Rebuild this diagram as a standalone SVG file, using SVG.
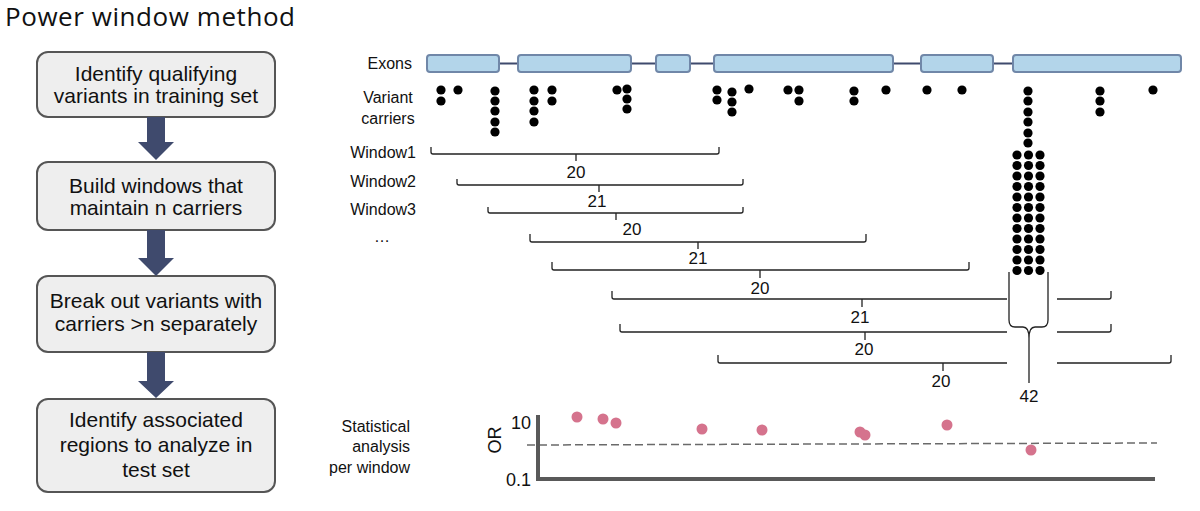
<svg xmlns="http://www.w3.org/2000/svg" width="1200" height="511" viewBox="0 0 1200 511">
<style>
.box{fill:#eeeeee;stroke:#555555;stroke-width:2}
.bt{font-family:"Liberation Sans",Arial,sans-serif;font-size:21px;fill:#111;text-anchor:middle}
.lbl{font-family:"Liberation Sans",Arial,sans-serif;font-size:16px;fill:#111}
.tick{font-family:"Liberation Sans",Arial,sans-serif;font-size:18px;fill:#111}
.num{font-family:"Liberation Sans",Arial,sans-serif;font-size:17px;fill:#111;text-anchor:middle}
.arrow{fill:#3f4a6d}
.exon{fill:#b3d5ea;stroke:#7087a8;stroke-width:2}
.dot{fill:#000}
.br{fill:none;stroke:#222;stroke-width:1.3}
.pd{fill:#d5738d}
</style>
<text x="5" y="26" font-family="'Open Sans','Noto Sans',sans-serif" font-size="26" fill="#111" textLength="290">Power window method</text>

<g id="step1"><rect class="box" x="37" y="52" width="238" height="65" rx="11"/><text class="bt" x="156" y="81">Identify qualifying</text><text class="bt" x="156" y="103">variants in training set</text></g>
<g id="step2"><rect class="box" x="37" y="162" width="238" height="68" rx="11"/><text class="bt" x="156" y="193">Build windows that</text><text class="bt" x="156" y="215">maintain n carriers</text></g>
<g id="step3"><rect class="box" x="37" y="276" width="238" height="76" rx="11"/><text class="bt" x="156" y="308">Break out variants with</text><text class="bt" x="156" y="331">carriers &gt;n separately</text></g>
<g id="step4"><rect class="box" x="37" y="399" width="238" height="93" rx="11"/><text class="bt" x="156" y="427">Identify associated</text><text class="bt" x="156" y="452">regions to analyze in</text><text class="bt" x="156" y="477">test set</text></g>

<g id="connectors">
<path class="arrow" d="M147 117H165V142H174L156 160L138 142H147Z"/>
<path class="arrow" d="M147 230H165V258H174L156 276L138 258H147Z"/>
<path class="arrow" d="M147 352H165V381H174L156 398L138 381H147Z"/>
</g>

<g id="labels" class="lbl">
<text x="412" y="69" text-anchor="end">Exons</text>
<text x="388" y="103" text-anchor="middle">Variant</text>
<text x="388" y="124" text-anchor="middle">carriers</text>
<text x="416" y="158" text-anchor="end">Window1</text>
<text x="416" y="187" text-anchor="end">Window2</text>
<text x="416" y="215" text-anchor="end">Window3</text>
<text x="382" y="242" text-anchor="middle">…</text>
<text x="410" y="432" text-anchor="end">Statistical</text>
<text x="410" y="452" text-anchor="end">analysis</text>
<text x="410" y="473" text-anchor="end">per window</text>
</g>

<g id="gene">
<line x1="499" y1="63.5" x2="1013" y2="63.5" stroke="#3f4a6d" stroke-width="2"/>
<rect class="exon" x="427" y="55" width="72" height="17" rx="3"/>
<rect class="exon" x="518" y="55" width="113" height="17" rx="3"/>
<rect class="exon" x="656" y="55" width="34" height="17" rx="3"/>
<rect class="exon" x="714" y="55" width="179" height="17" rx="3"/>
<rect class="exon" x="921" y="55" width="72" height="17" rx="3"/>
<rect class="exon" x="1013" y="55" width="168" height="17" rx="3"/>
</g>

<g id="carriers" class="dot">
<circle cx="441" cy="90" r="4.6"/><circle cx="441" cy="101" r="4.6"/>
<circle cx="458" cy="90" r="4.6"/>
<circle cx="495" cy="91" r="4.6"/><circle cx="495" cy="101" r="4.6"/><circle cx="495" cy="111" r="4.6"/><circle cx="495" cy="122" r="4.6"/><circle cx="495" cy="132" r="4.6"/>
<circle cx="534" cy="90" r="4.6"/><circle cx="534" cy="101" r="4.6"/><circle cx="534" cy="111" r="4.6"/><circle cx="534" cy="122" r="4.6"/>
<circle cx="552" cy="90" r="4.6"/><circle cx="552" cy="101" r="4.6"/>
<circle cx="617" cy="90" r="4.6"/>
<circle cx="627" cy="89" r="4.6"/><circle cx="627" cy="99" r="4.6"/><circle cx="627" cy="109" r="4.6"/>
<circle cx="717" cy="90" r="4.6"/><circle cx="717" cy="100" r="4.6"/>
<circle cx="732" cy="92" r="4.6"/><circle cx="732" cy="102" r="4.6"/><circle cx="732" cy="112" r="4.6"/>
<circle cx="749" cy="89" r="4.6"/>
<circle cx="788" cy="90" r="4.6"/>
<circle cx="799" cy="90" r="4.6"/><circle cx="799" cy="101" r="4.6"/>
<circle cx="854" cy="91" r="4.6"/><circle cx="854" cy="101" r="4.6"/>
<circle cx="886" cy="90" r="4.6"/>
<circle cx="927" cy="90" r="4.6"/>
<circle cx="962" cy="90" r="4.6"/>
<circle cx="1100" cy="91" r="4.6"/><circle cx="1100" cy="101" r="4.6"/><circle cx="1100" cy="112" r="4.6"/>
<circle cx="1153" cy="90" r="4.6"/>
<circle cx="1028" cy="91" r="4.6"/><circle cx="1028" cy="101" r="4.6"/><circle cx="1028" cy="112" r="4.6"/><circle cx="1028" cy="122" r="4.6"/><circle cx="1028" cy="133" r="4.6"/><circle cx="1028" cy="143" r="4.6"/>
<circle cx="1017" cy="155" r="4.6"/><circle cx="1028.5" cy="155" r="4.6"/><circle cx="1040" cy="155" r="4.6"/>
<circle cx="1017" cy="165.5" r="4.6"/><circle cx="1028.5" cy="165.5" r="4.6"/><circle cx="1040" cy="165.5" r="4.6"/>
<circle cx="1017" cy="176" r="4.6"/><circle cx="1028.5" cy="176" r="4.6"/><circle cx="1040" cy="176" r="4.6"/>
<circle cx="1017" cy="186.5" r="4.6"/><circle cx="1028.5" cy="186.5" r="4.6"/><circle cx="1040" cy="186.5" r="4.6"/>
<circle cx="1017" cy="197" r="4.6"/><circle cx="1028.5" cy="197" r="4.6"/><circle cx="1040" cy="197" r="4.6"/>
<circle cx="1017" cy="207.5" r="4.6"/><circle cx="1028.5" cy="207.5" r="4.6"/><circle cx="1040" cy="207.5" r="4.6"/>
<circle cx="1017" cy="218" r="4.6"/><circle cx="1028.5" cy="218" r="4.6"/><circle cx="1040" cy="218" r="4.6"/>
<circle cx="1017" cy="228.5" r="4.6"/><circle cx="1028.5" cy="228.5" r="4.6"/><circle cx="1040" cy="228.5" r="4.6"/>
<circle cx="1017" cy="239" r="4.6"/><circle cx="1028.5" cy="239" r="4.6"/><circle cx="1040" cy="239" r="4.6"/>
<circle cx="1017" cy="249.5" r="4.6"/><circle cx="1028.5" cy="249.5" r="4.6"/><circle cx="1040" cy="249.5" r="4.6"/>
<circle cx="1017" cy="260" r="4.6"/><circle cx="1028.5" cy="260" r="4.6"/><circle cx="1040" cy="260" r="4.6"/>
<circle cx="1017" cy="270.5" r="4.6"/><circle cx="1028.5" cy="270.5" r="4.6"/><circle cx="1040" cy="270.5" r="4.6"/>
</g>

<g id="windows">
<path class="br" d="M431 147V152Q431 154 433 154H717Q719 154 719 152V147M576 154V161"/>
<text class="num" x="576" y="178">20</text>
<path class="br" d="M457 179V183Q457 185 459 185H741Q743 185 743 183V179M599 185V192"/>
<text class="num" x="597" y="207">21</text>
<path class="br" d="M488 207V211Q488 213 490 213H741Q743 213 743 211V207M616 213V220"/>
<text class="num" x="632" y="235">20</text>
<path class="br" d="M530 234V240Q530 242 532 242H864Q866 242 866 240V234M698 242V249"/>
<text class="num" x="698" y="264">21</text>
<path class="br" d="M552 262V268Q552 270 554 270H967Q969 270 969 268V262M760 270V278"/>
<text class="num" x="760" y="294">20</text>
<path class="br" d="M612 291V297Q612 299 614 299H1007M1057 299H1109Q1111 299 1111 297V291M862 299V307"/>
<text class="num" x="860" y="323">21</text>
<path class="br" d="M620 324V330Q620 332 622 332H1007M1057 332H1109Q1111 332 1111 330V324M865 332V340"/>
<text class="num" x="864" y="355">20</text>
<path class="br" d="M718 355V361Q718 363 720 363H1007M1057 363H1169Q1171 363 1171 361V355M943 363V371"/>
<text class="num" x="941" y="387">20</text>
<path class="br" d="M1009 272V320Q1009 327 1015 327H1023Q1029 327 1029 338V383M1048 272V320Q1048 327 1042 327H1035Q1029 327 1029 338"/>
<text class="num" x="1029" y="402">42</text>
</g>

<g id="plot">
<line x1="527" y1="445" x2="1157" y2="443" stroke="#6a6a6a" stroke-width="1.5" stroke-dasharray="8 4"/>
<path d="M538 415V479H1155" fill="none" stroke="#595959" stroke-width="4"/>
<text class="tick" x="531" y="429" text-anchor="end">10</text>
<text class="tick" x="531" y="486" text-anchor="end">0.1</text>
<text class="tick" x="0" y="0" text-anchor="middle" transform="translate(501 440) rotate(-90)">OR</text>
<circle class="pd" cx="577" cy="417" r="5.5"/>
<circle class="pd" cx="603" cy="419" r="5.5"/>
<circle class="pd" cx="616" cy="423" r="5.5"/>
<circle class="pd" cx="702" cy="429" r="5.5"/>
<circle class="pd" cx="762" cy="430" r="5.5"/>
<circle class="pd" cx="860" cy="432" r="5.5"/>
<circle class="pd" cx="865" cy="435" r="5.5"/>
<circle class="pd" cx="947" cy="425" r="5.5"/>
<circle class="pd" cx="1031" cy="450" r="5.5"/>
</g>
</svg>
